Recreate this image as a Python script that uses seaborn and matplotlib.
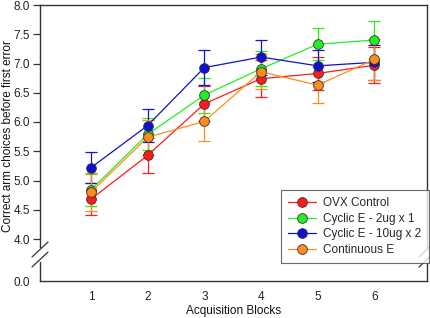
import numpy as np
import pandas as pd
import seaborn as sns
import matplotlib.pyplot as plt
from matplotlib.lines import Line2D
from matplotlib.ticker import FixedLocator

# %% data
blocks = [1, 2, 3, 4, 5, 6]
groups = ["OVX Control", "Cyclic E - 2ug x 1", "Cyclic E - 10ug x 2", "Continuous E"]
colors = ["#ff1a1a", "#22ee22", "#1010d0", "#ff8c1a"]

ovx_mean = [4.68, 5.43, 6.31, 6.74, 6.83, 6.97]
ovx_err = [0.27, 0.30, 0.30, 0.32, 0.28, 0.31]
cyc2_mean = [4.84, 5.79, 6.46, 6.91, 7.33, 7.40]
cyc2_err = [0.27, 0.27, 0.30, 0.30, 0.27, 0.33]
cyc10_mean = [5.22, 5.94, 6.93, 7.11, 6.96, 7.02]
cyc10_err = [0.27, 0.29, 0.30, 0.30, 0.27, 0.30]
cont_mean = [4.80, 5.74, 6.01, 6.86, 6.63, 7.07]
cont_err = [0.32, 0.30, 0.33, 0.30, 0.31, 0.35]

means = [ovx_mean, cyc2_mean, cyc10_mean, cont_mean]
errs = [ovx_err, cyc2_err, cyc10_err, cont_err]

df = pd.DataFrame(
    {
        "block": np.tile(blocks, len(groups)),
        "group": np.repeat(groups, len(blocks)),
        "score": np.concatenate(means),
        "err": np.concatenate(errs),
    }
)

sns.set_style("white")
plt.rcParams["font.family"] = ["Liberation Sans", "DejaVu Sans"]

W, H = 431, 318
fig = plt.figure(figsize=(W / 100, H / 100), dpi=100)


def px_axes(left, top, right, bottom):
    return fig.add_axes([left / W, 1 - bottom / H, (right - left) / W, (bottom - top) / H])


ax = px_axes(40, 5, 427, 247)
ax_lo = px_axes(40, 262, 427, 281)

spine_c = "#333333"
fs = 8.5
for a in (ax, ax_lo):
    for s in a.spines.values():
        s.set_color(spine_c)
        s.set_linewidth(1.0)
    a.set_xlim(0.1, 6.93)
    a.set_facecolor("white")

# error bars first, then lines/markers via seaborn
for g, c in zip(groups, colors):
    d = df[df["group"] == g]
    ax.errorbar(d["block"], d["score"], yerr=d["err"], fmt="none", ecolor=c,
                elinewidth=0.9, capsize=4, capthick=0.9, zorder=2)

sns.lineplot(
    data=df, x="block", y="score", hue="group", hue_order=groups,
    palette=colors, marker="o", markersize=7, markeredgecolor="#333333",
    markeredgewidth=0.6, linewidth=0.9, legend=False, ax=ax, zorder=3,
)

ax.set_ylim(4.0 - 8 / 58.5, 8.0)
ax_lo.set_ylim(0, 19 / 58.5)
ax.spines["bottom"].set_visible(False)
ax_lo.spines["top"].set_visible(False)

ax.set_xlabel("")
ax.set_ylabel("")
ax.set_xticks([])
ax.yaxis.set_major_locator(FixedLocator([4.0, 4.5, 5.0, 5.5, 6.0, 6.5, 7.0, 7.5, 8.0]))
ax.yaxis.set_major_formatter(plt.FormatStrFormatter("%.1f"))
ax.yaxis.set_minor_locator(FixedLocator([4.5, 5.5, 6.5, 7.5]))
ax.tick_params(axis="y", which="major", left=True, right=False, direction="out",
               length=5, width=0.9, color=spine_c, labelsize=fs, labelcolor="#222222", pad=2)
ax.tick_params(axis="y", which="minor", left=False, right=True, direction="in",
               length=5, width=0.9, color=spine_c)

ax_lo.set_yticks([0.0])
ax_lo.yaxis.set_major_formatter(plt.FormatStrFormatter("%.1f"))
ax_lo.set_xticks(blocks)
ax_lo.tick_params(axis="both", direction="out", length=5, width=0.9, color=spine_c,
                  labelsize=fs, labelcolor="#222222", pad=2)
ax_lo.tick_params(axis="y", right=False, pad=2)
ax_lo.set_xlabel("")
ax_lo.set_ylabel("")

fig.text(234 / W, 1 - 311 / H, "Acquisition Blocks", fontsize=fs,
         ha="center", va="center", color="#111111")
fig.text(8 / W, 1 - 136 / H, "Correct arm choices before first error", rotation=90,
         fontsize=fs, ha="center", va="center", color="#111111")

# break marks on both spines
for x0 in (32, 419):
    for y0 in (257, 267):
        fig.add_artist(Line2D([x0 / W, (x0 + 16) / W], [1 - y0 / H, 1 - (y0 - 15) / H],
                              color=spine_c, linewidth=0.9))

handles = [
    Line2D([], [], color=c, marker="o", markersize=7, markeredgecolor="#333333",
           markeredgewidth=0.6, linewidth=0.9)
    for c in colors
]
leg = fig.legend(handles, groups, loc="lower left", bbox_to_anchor=(275 / W, 1 - 269 / H),
                 fontsize=fs, frameon=True, fancybox=False, edgecolor="#444444",
                 handlelength=2.4, borderpad=0.6, labelspacing=0.3, handletextpad=0.6)
leg.get_frame().set_linewidth(0.8)

fig.savefig("out.png", dpi=100)
